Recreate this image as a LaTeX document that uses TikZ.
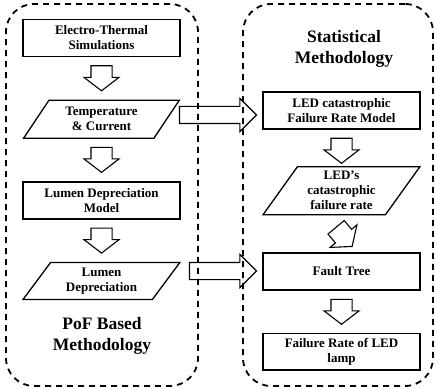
\documentclass[tikz,border=0pt]{standalone}
\usepackage{fontspec}
\setmainfont{Liberation Serif}[BoldFont={Liberation Serif Bold}]
\usetikzlibrary{positioning, shapes.geometric, shapes.arrows, calc}
\newcommand{\boxfont}{\bfseries\fontsize{13}{15}\selectfont}
\newcommand{\headfont}{\bfseries\fontsize{17.5}{21.5}\selectfont}
\tikzset{
  groupbox/.style={rectangle, draw, dash pattern=on 6pt off 5pt, line width=1.8pt,
                   rounded corners=28pt, inner sep=0pt},
  stepbox/.style={rectangle, draw, line width=1.5pt, minimum width=157pt,
                  minimum height=37pt, align=center, font=\boxfont, inner sep=2pt},
  databox/.style={trapezium, trapezium stretches=true, draw, line width=1.3pt,
                  minimum width=157pt, minimum height=37pt, align=center,
                  font=\boxfont, inner sep=1pt},
  blockarrow/.style={single arrow, draw, line width=1.1pt, inner xsep=0pt, inner ysep=10pt,
                     minimum height=25pt, single arrow head extend=7pt,
                     single arrow tip angle=105},
  downarrow/.style={blockarrow, shape border rotate=270, inner xsep=10pt, inner ysep=0pt},
  sidearrow/.style={single arrow, draw, line width=1.1pt, inner xsep=0pt, inner ysep=8pt,
                    single arrow head extend=8pt, single arrow tip angle=90},
}
\begin{document}
\begin{tikzpicture}[x=1pt, y=1pt, node distance=8pt]
    \useasboundingbox (0,0) rectangle (435,388);
    % the two methodology frames
    \node[groupbox, minimum width=192pt, minimum height=382pt] (pof) at (102,193) {};
    \node[groupbox, minimum width=190pt, minimum height=382pt] (stat) at (338,193) {};
    % PoF side
    \node[stepbox] (ets) at (101.5,350) {Electro-Thermal\\Simulations};
    \node[downarrow, below=of ets] (a1) {};
    \node[databox, below=of a1, minimum width=156pt, minimum height=38pt,
          trapezium left angle=55, trapezium right angle=125] (temp)
      {Temperature\\\& Current};
    \node[downarrow, below=of temp] (a2) {};
    \node[stepbox, below=of a2] (ldm) {Lumen Depreciation\\Model};
    \node[downarrow, below=of ldm] (a3) {};
    \node[databox, below=of a3, trapezium left angle=55, trapezium right angle=125] (lumen)
      {Lumen\\Depreciation};
    \node[font=\headfont, align=center] (pofname) at (102,52) {PoF Based\\Methodology};
    % statistical side
    \node[font=\headfont, align=center] (statname) at (344,339) {Statistical\\Methodology};
    \node[stepbox] (ledm) at (341.5,277.5) {LED catastrophic\\Failure Rate Model};
    \node[downarrow, below=of ledm] (a4) {};
    \node[databox, below=2pt of a4, minimum height=48pt,
          trapezium left angle=56, trapezium right angle=124] (ledr)
      {LED's\\catastrophic\\failure rate};
    \node[stepbox] (ftree) at (341.5,116.5) {Fault Tree};
    \node[blockarrow, rotate=-50] (a5) at ($(ledr.south)!0.5!(ftree.north)$) {};
    \node[downarrow, below=of ftree] (a6) {};
    \node[stepbox, below=of a6, minimum height=36pt] (lamp) {Failure Rate of LED\\lamp};
    % links between the two sides
    \node[sidearrow, minimum height=77pt, anchor=tip] (h1)
      at ([xshift=-5pt, yshift=-4.5pt]ledm.west) {};
    \node[sidearrow, minimum height=67pt, anchor=tip] (h2)
      at ([xshift=-5pt, yshift=0.5pt]ftree.west) {};
\end{tikzpicture}
\end{document}
